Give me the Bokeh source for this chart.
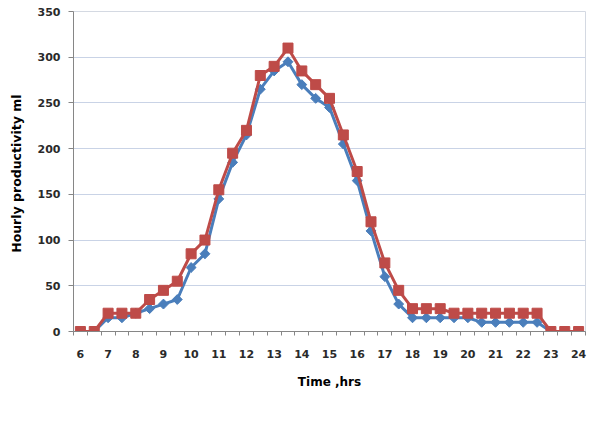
import numpy as np
from bokeh.plotting import figure
from bokeh.models import Range1d, FixedTicker
from bokeh.embed import file_html
from bokeh.resources import INLINE

hours = [6, 6.5, 7, 7.5, 8, 8.5, 9, 9.5, 10, 10.5, 11, 11.5, 12, 12.5, 13, 13.5,
         14, 14.5, 15, 15.5, 16, 16.5, 17, 17.5, 18, 18.5, 19, 19.5, 20, 20.5,
         21, 21.5, 22, 22.5, 23, 23.5, 24]
blue_vals = [0, 0, 15, 15, 20, 25, 30, 35, 70, 85, 145, 185, 215, 265, 285, 295,
             270, 255, 245, 205, 165, 110, 60, 30, 15, 15, 15, 15, 15, 10,
             10, 10, 10, 10, 0, 0, 0]
red_vals = [0, 0, 20, 20, 20, 35, 45, 55, 85, 100, 155, 195, 220, 280, 290, 310,
            285, 270, 255, 215, 175, 120, 75, 45, 25, 25, 25, 20, 20, 20,
            20, 20, 20, 20, 0, 0, 0]
x_tick_labels = list(range(6, 25))
y_ticks = list(range(0, 351, 50))

p = figure(width=592, height=438, output_backend="svg", toolbar_location=None,
           x_range=Range1d(5.75, 24.25), y_range=Range1d(0, 350),
           min_border_left=73, min_border_right=7, min_border_top=11,
           min_border_bottom=107)
p.background_fill_color = "white"
p.border_fill_color = "white"
p.outline_line_color = "#d4d9e2"

# axes
xt = FixedTicker(ticks=x_tick_labels,
                 minor_ticks=[5.75 + 0.5 * k for k in range(38)])
p.xaxis.ticker = xt
p.xaxis.major_tick_out = 0
p.xaxis.major_tick_in = 0
p.xaxis.minor_tick_out = 4
p.xaxis.minor_tick_in = 0
p.xaxis.minor_tick_line_color = "#868686"
p.xaxis.axis_line_color = "#868686"
p.xaxis.major_label_standoff = 14
p.xaxis.axis_label = "Time ,hrs"
p.xaxis.axis_label_standoff = 14

p.yaxis.ticker = FixedTicker(ticks=y_ticks)
p.yaxis.major_tick_out = 5
p.yaxis.major_tick_in = 0
p.yaxis.minor_tick_line_color = None
p.yaxis.axis_line_color = "#868686"
p.yaxis.major_tick_line_color = "#868686"
p.yaxis.major_label_standoff = 8
p.yaxis.axis_label = "Hourly  productivity ml"
p.yaxis.axis_label_standoff = 11

for ax in (p.xaxis, p.yaxis):
    ax.major_label_text_font = "DejaVu Sans"
    ax.major_label_text_font_style = "bold"
    ax.major_label_text_font_size = "11px"
    ax.major_label_text_color = "#2a2a2a"
    ax.axis_label_text_font = "DejaVu Sans"
    ax.axis_label_text_font_style = "bold"
    ax.axis_label_text_color = "black"
p.xaxis.axis_label_text_font_size = "12px"
p.yaxis.axis_label_text_font_size = "12.5px"

p.xgrid.grid_line_color = None
p.ygrid.ticker = FixedTicker(ticks=y_ticks)
p.ygrid.grid_line_color = "#c9d3e6"
p.ygrid.grid_line_width = 1

blue = "#4a7ebb"
red = "#be4b48"
p.line(hours, blue_vals, line_color=blue, line_width=3)
p.scatter(hours, blue_vals, marker="square", angle=np.pi / 4, size=7,
          fill_color=blue, line_color=blue)
p.line(hours, red_vals, line_color=red, line_width=3)
p.scatter(hours, red_vals, marker="square", size=10,
          fill_color=red, line_color=red)

open("out.html", "w").write(file_html(p, INLINE))
